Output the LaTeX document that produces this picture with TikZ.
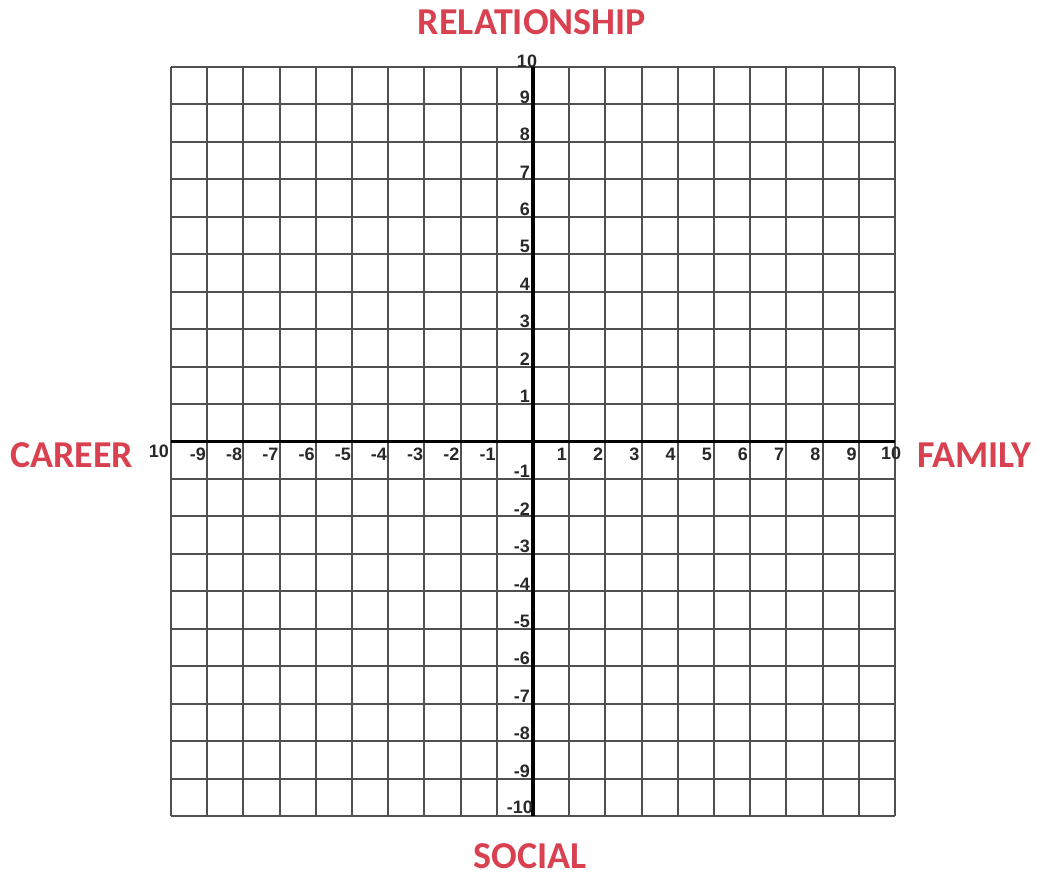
\documentclass[tikz,border=0pt]{standalone}
\usepackage{fontspec}
\setmainfont{Carlito}
\newfontfamily\numfont{Liberation Sans}
\definecolor{lblred}{RGB}{217,64,80}
\definecolor{gridgray}{RGB}{80,80,80}
\definecolor{numgray}{RGB}{40,40,40}
\begin{document}
\begin{tikzpicture}[x=1pt,y=-1pt,
  gridline/.style={draw=gridgray,line width=2pt},
  axisline/.style={draw=black,line width=3.4pt},
  axlabel/.style={text=lblred,font=\fontsize{38}{40}\selectfont\bfseries,inner sep=0pt},
  ticklbl/.style={text=numgray,font=\numfont\bfseries\fontsize{18}{18}\selectfont,inner sep=0pt}]
\useasboundingbox (0,0) rectangle (1039,874);
\def\gx{171}\def\gy{67}\def\cw{36.2}\def\ch{37.45}
% grid
\foreach \i in {0,...,20}{
  \draw[gridline] ({\gx+\i*\cw},\gy) -- ({\gx+\i*\cw},{\gy+20*\ch});
  \draw[gridline] (\gx,{\gy+\i*\ch}) -- ({\gx+20*\cw},{\gy+\i*\ch});
}
% axes
\coordinate (xl) at (\gx,{\gy+10*\ch});
\coordinate (xr) at ({\gx+20*\cw},{\gy+10*\ch});
\coordinate (yt) at ({\gx+10*\cw},\gy);
\coordinate (yb) at ({\gx+10*\cw},{\gy+20*\ch});
\draw[axisline] (xl) -- (xr);
\draw[axisline] (yt) -- (yb);
% y tick labels
\foreach \k in {1,...,9}{
  \node[ticklbl,anchor=south east] (yp\k) at ({\gx+10*\cw-3},{\gy+(10-\k)*\ch-1}) {\k};
  \node[ticklbl,anchor=south east] (yn\k) at ({\gx+10*\cw-3},{\gy+(10+\k)*\ch-1}) {-\k};
}
\node[ticklbl,anchor=south] (yp10) at ({\gx+10*\cw-6},{\gy+1}) {10};
\node[ticklbl,anchor=south east] (yn10) at ({\gx+10*\cw},{\gy+20*\ch-2}) {-10};
% x tick labels
\foreach \k in {1,...,9}{
  \node[ticklbl,anchor=north east] (xp\k) at ({\gx+(10+\k)*\cw-2},{\gy+10*\ch+6}) {\k};
  \node[ticklbl,anchor=north east] (xn\k) at ({\gx+(10-\k)*\cw-1},{\gy+10*\ch+6}) {-\k};
}
\node[ticklbl,anchor=east] (xn10) at ({\gx-2},{\gy+10*\ch+10}) {10};
\node[ticklbl,anchor=west] (xp10) at ({\gx+20*\cw-14},{\gy+10*\ch+12}) {10};
% red labels
\node[axlabel] (rel) at (532,22) {RELATIONSHIP};
\node[axlabel,anchor=west] (car) at (10,455) {CAREER};
\node[axlabel,anchor=west] (fam) at (917,455) {FAMILY};
\node[axlabel] (soc) at (530,856) {SOCIAL};
\end{tikzpicture}
\end{document}
